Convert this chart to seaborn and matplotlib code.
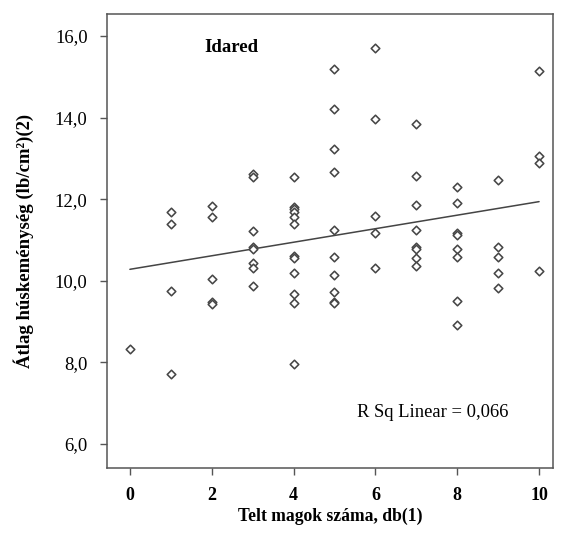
import numpy as np
import pandas as pd
import matplotlib
matplotlib.use("Agg")
import matplotlib.pyplot as plt
import seaborn as sns

# ---- data ----
x0 = [0]
y0 = [8.33]
x1 = [1, 1, 1, 1]
y1 = [11.68, 11.38, 9.74, 7.72]
x2 = [2, 2, 2, 2, 2]
y2 = [11.84, 11.56, 10.04, 9.48, 9.44]
x3 = [3] * 8
y3 = [12.62, 12.55, 11.23, 10.83, 10.79, 10.43, 10.31, 9.87]
x4 = [4] * 12
y4 = [12.54, 11.80, 11.76, 11.69, 11.57, 11.39, 10.60, 10.56, 10.18, 9.67, 9.45, 7.95]
x5 = [5] * 10
y5 = [15.18, 14.21, 13.22, 12.66, 11.25, 10.59, 10.13, 9.72, 9.49, 9.45]
x6 = [6] * 5
y6 = [15.70, 13.97, 11.59, 11.16, 10.31]
x7 = [7] * 8
y7 = [13.84, 12.57, 11.86, 11.25, 10.83, 10.79, 10.55, 10.35]
x8 = [8] * 8
y8 = [12.31, 11.91, 11.16, 11.12, 10.77, 10.59, 9.51, 8.92]
x9 = [9] * 5
y9 = [12.47, 10.84, 10.58, 10.18, 9.83]
x10 = [10] * 4
y10 = [15.15, 13.07, 12.88, 10.25]

x_ticks = [0, 2, 4, 6, 8, 10]
y_ticks = [6, 8, 10, 12, 14, 16]
y_tick_labels = ["6,0", "8,0", "10,0", "12,0", "14,0", "16,0"]
title_text = "Idared"
r2_text = "R Sq Linear = 0,066"
x_label = "Telt magok száma, db(1)"
y_label = "Átlag húskeménység (lb/cm²)(2)"

df = pd.DataFrame({
    "x": x0 + x1 + x2 + x3 + x4 + x5 + x6 + x7 + x8 + x9 + x10,
    "y": y0 + y1 + y2 + y3 + y4 + y5 + y6 + y7 + y8 + y9 + y10,
})

sns.set_style("white")
plt.rcParams["font.family"] = ["Liberation Serif", "DejaVu Serif"]
plt.rcParams["text.color"] = "black"
plt.rcParams["axes.labelcolor"] = "black"
plt.rcParams["xtick.color"] = "black"
plt.rcParams["ytick.color"] = "black"

fig = plt.figure(figsize=(5.61, 5.38), dpi=100)
ax = fig.add_axes([0.1907, 0.1301, 0.795, 0.8439])

sns.scatterplot(data=df, x="x", y="y", ax=ax, marker="D", s=19,
                facecolor="white", edgecolor="#474747", linewidth=1.15,
                zorder=3)
sns.regplot(data=df, x="x", y="y", ax=ax, scatter=False, ci=None,
            truncate=True, line_kws={"color": "#444444", "lw": 1.1})

ax.set_xlim(-0.56, 10.34)
ax.set_ylim(5.41, 16.54)
ax.set_xticks(x_ticks)
ax.set_xticklabels([str(t) for t in x_ticks], fontweight="bold", fontsize=13)
ax.set_yticks(y_ticks)
ax.set_yticklabels(y_tick_labels, fontsize=13.5)
ax.tick_params(axis="both", direction="out", length=5, width=1,
               color="#555555", labelcolor="black", pad=9,
               left=True, bottom=True)

for s in ax.spines.values():
    s.set_color("#555555")
    s.set_linewidth(1.1)

ax.set_xlabel(x_label, fontweight="bold", fontsize=12.7, labelpad=2, color="black")
ax.set_ylabel(y_label, fontweight="bold", fontsize=13.5, labelpad=15, color="black")

ax.text(2.49, 15.73, title_text, fontweight="bold", fontsize=13.5,
        ha="center", va="center", color="black",
        bbox=dict(facecolor="white", edgecolor="none", pad=8))
ax.text(7.40, 6.76, r2_text, fontsize=13.4, ha="center", va="center",
        color="black",
        bbox=dict(facecolor="white", edgecolor="none", pad=6))

fig.savefig("out.png", dpi=100)
